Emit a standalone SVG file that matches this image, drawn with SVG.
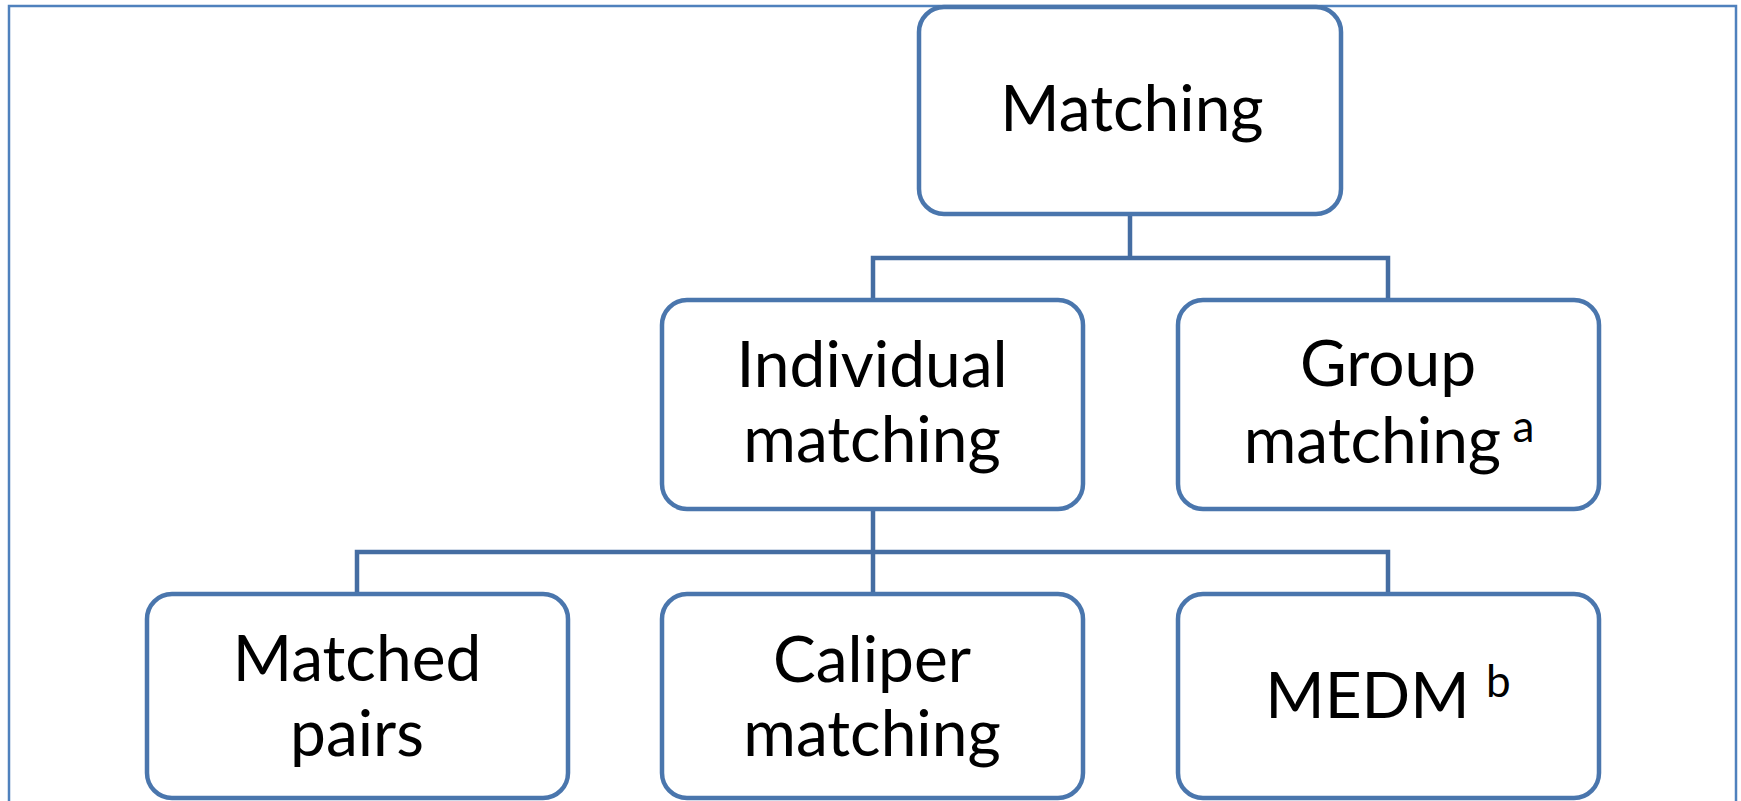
<svg xmlns="http://www.w3.org/2000/svg" width="1741" height="801" viewBox="0 0 1741 801">
<style>
.frame{fill:none;stroke:#4f81bd;stroke-width:2.5}
.box{fill:#ffffff;stroke:#4a76ad;stroke-width:4.5}
.conn{fill:none;stroke:#456da2;stroke-width:4.5}
.lbl{font-family:Lato,"Liberation Sans",sans-serif;font-size:64px;fill:#000;text-anchor:middle}
.sup{font-size:44px}
</style>
<rect width="1741" height="801" fill="#ffffff"/>
<rect class="frame" x="9" y="6" width="1727" height="820"/>
<g id="connectors">
<path class="conn" d="M1130,214 V258 M873,300 V258 H1388 V300"/>
<path class="conn" d="M873,510 V594 M357,594 V552 H1388 V594"/>
</g>
<g id="node-matching">
<rect class="box" x="919" y="7" width="422" height="207" rx="25"/>
<text class="lbl" x="1132" y="131">Matching</text>
</g>
<g id="node-individual">
<rect class="box" x="662" y="300" width="421" height="209" rx="25"/>
<text class="lbl" x="872" y="387">Individual</text>
<text class="lbl" x="872" y="462">matching</text>
</g>
<g id="node-group">
<rect class="box" x="1178" y="300" width="421" height="209" rx="25"/>
<text class="lbl" x="1388" y="386">Group</text>
<text class="lbl" x="1389" y="463">matching<tspan class="sup" dy="-21"> a</tspan></text>
</g>
<g id="node-matched-pairs">
<rect class="box" x="147" y="594" width="421" height="204" rx="25"/>
<text class="lbl" x="357" y="681">Matched</text>
<text class="lbl" x="357" y="756">pairs</text>
</g>
<g id="node-caliper">
<rect class="box" x="662" y="594" width="421" height="204" rx="25"/>
<text class="lbl" x="872" y="682">Caliper</text>
<text class="lbl" x="872" y="756">matching</text>
</g>
<g id="node-medm">
<rect class="box" x="1178" y="594" width="421" height="204" rx="25"/>
<text class="lbl" x="1388" y="718">MEDM <tspan class="sup" dy="-21">b</tspan></text>
</g>
</svg>
